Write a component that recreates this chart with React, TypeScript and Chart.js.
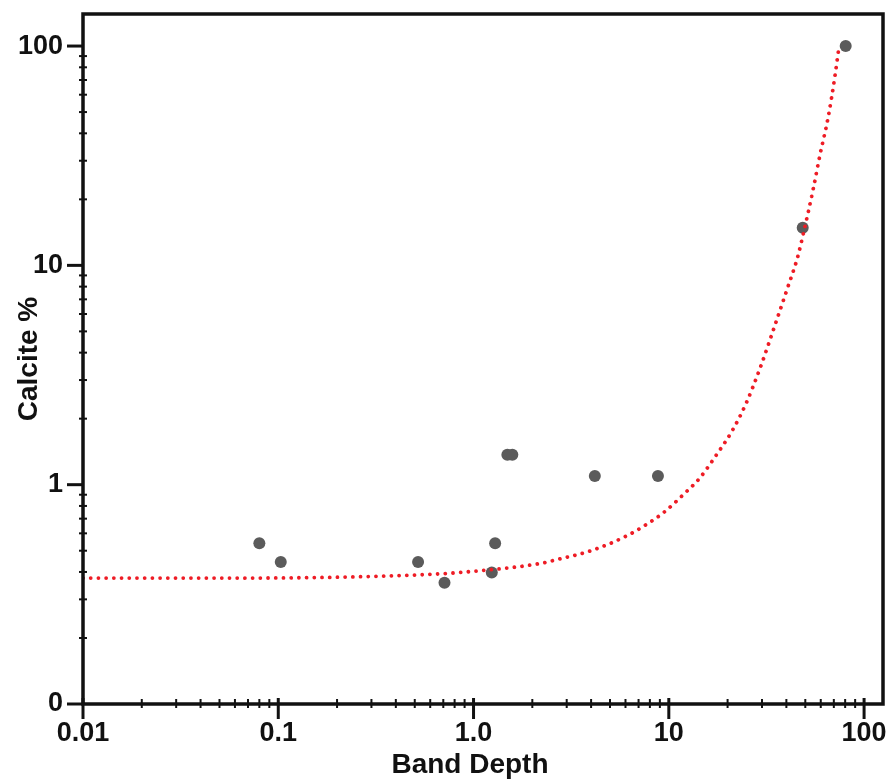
import { useEffect, useRef } from 'react';
import { Chart, registerables } from 'chart.js';

Chart.register(...registerables);

// Measured samples (Band Depth vs Calcite %)
const bandDepth = [0.08, 0.103, 0.52, 0.71, 1.24, 1.29, 1.49, 1.58, 4.18, 8.8, 48.5, 80.5];
const calcitePct = [0.541, 0.444, 0.444, 0.357, 0.398, 0.541, 1.368, 1.368, 1.096, 1.096, 14.85, 100];

// Fitted trend curve
const fitBandDepth = [0.01, 0.0587, 0.531, 0.885, 2.19, 2.61, 4.02, 6.08, 7.69, 9.36, 12.1, 14.4, 17.6, 21.0, 24.8, 29.3, 35.0, 40.3, 45.7, 48.8, 54.9, 59.4, 65.5, 70.9, 74.6];
const fitCalcite = [0.375, 0.375, 0.388, 0.399, 0.437, 0.453, 0.501, 0.584, 0.659, 0.744, 0.916, 1.072, 1.374, 1.746, 2.334, 3.39, 5.35, 7.76, 10.92, 13.89, 22.3, 31.8, 47.4, 72.9, 101];

const xTickValues = [0.01, 0.1, 1, 10, 100];
const xTickLabels = ['0.01', '0.1', '1.0', '10', '100'];
const yTickValues = [0.1, 1, 10, 100];
const yTickLabels = ['0', '1', '10', '100'];
const xTitle = 'Band Depth';
const yTitle = 'Calcite %';

const FONT_FAMILY = '"Liberation Sans", Arial, Helvetica, sans-serif';
const INK = '#111111';

export default function App() {
  const ref = useRef<HTMLCanvasElement>(null);

  useEffect(() => {
    const canvas = ref.current;
    if (!canvas) return;

    const framePlugin = {
      id: 'frameTicks',
      afterDraw(chart: any) {
        const { ctx, chartArea: a, scales } = chart;
        const xs = scales.x;
        const ys = scales.y;
        const seg = (x1: number, y1: number, x2: number, y2: number) => {
          ctx.beginPath();
          ctx.moveTo(x1, y1);
          ctx.lineTo(x2, y2);
          ctx.stroke();
        };
        ctx.save();
        ctx.strokeStyle = INK;
        ctx.lineCap = 'butt';

        // minor ticks
        ctx.lineWidth = 2;
        for (let e = -2; e <= 1; e++) {
          for (let k = 2; k <= 9; k++) {
            const px = xs.getPixelForValue(k * Math.pow(10, e));
            seg(px, a.bottom - 5, px, a.bottom + 4);
          }
        }
        for (let e = -1; e <= 1; e++) {
          for (let k = 2; k <= 9; k++) {
            const py = ys.getPixelForValue(k * Math.pow(10, e));
            seg(a.left - 4, py, a.left + 4, py);
          }
        }

        // major ticks
        ctx.lineWidth = 3;
        xTickValues.forEach((v) => {
          const px = xs.getPixelForValue(v);
          seg(px, a.bottom - 6, px, a.bottom + 15);
        });
        yTickValues.forEach((v) => {
          const py = ys.getPixelForValue(v);
          seg(a.left - 16, py, a.left, py);
        });

        // frame
        ctx.lineWidth = 3.5;
        ctx.strokeRect(a.left, a.top, a.right - a.left, a.bottom - a.top);

        // axis titles
        ctx.fillStyle = INK;
        ctx.font = `bold 28px ${FONT_FAMILY}`;
        ctx.textAlign = 'center';
        ctx.textBaseline = 'alphabetic';
        ctx.fillText(xTitle, 470, 773);
        ctx.translate(37, (a.top + a.bottom) / 2);
        ctx.rotate(-Math.PI / 2);
        ctx.fillText(yTitle, 0, 0);
        ctx.restore();
      },
    };

    const tickFont = { family: FONT_FAMILY, size: 27, weight: 'bold' as const };

    const chart = new Chart(canvas, {
      type: 'scatter',
      data: {
        datasets: [
          {
            label: 'fit',
            data: fitBandDepth.map((x, i) => ({ x, y: fitCalcite[i] })),
            showLine: true,
            borderColor: '#ee1c25',
            borderWidth: 3.8,
            borderDash: [0.01, 7.7],
            borderCapStyle: 'round',
            pointRadius: 0,
            cubicInterpolationMode: 'monotone',
            fill: false,
            order: 0,
          } as any,
          {
            label: 'samples',
            data: bandDepth.map((x, i) => ({ x, y: calcitePct[i] })),
            showLine: false,
            pointRadius: 6,
            pointBackgroundColor: '#5b5b5b',
            pointBorderWidth: 0,
            order: 1,
          } as any,
        ],
      },
      options: {
        animation: false,
        responsive: false,
        devicePixelRatio: 1,
        layout: { padding: { top: 14, right: 10, left: 0, bottom: 0 } },
        plugins: {
          legend: { display: false },
          tooltip: { enabled: false },
        },
        scales: {
          x: {
            type: 'logarithmic',
            min: 0.01,
            max: 125,
            grid: { display: false, drawTicks: false },
            border: { display: false },
            afterBuildTicks: (s: any) => {
              s.ticks = xTickValues.map((v) => ({ value: v }));
            },
            afterFit: (s: any) => {
              s.height = 77;
              s.paddingLeft = 0;
              s.paddingRight = 0;
              s.paddingTop = 0;
              s.paddingBottom = 0;
            },
            ticks: {
              autoSkip: false,
              maxRotation: 0,
              padding: 13,
              color: INK,
              font: tickFont,
              callback: (_v: any, i: number) => xTickLabels[i],
            },
          },
          y: {
            type: 'logarithmic',
            min: 0.1,
            max: 140,
            grid: { display: false, drawTicks: false },
            border: { display: false },
            afterBuildTicks: (s: any) => {
              s.ticks = yTickValues.map((v) => ({ value: v }));
            },
            afterFit: (s: any) => {
              s.width = 83;
              s.paddingLeft = 0;
              s.paddingRight = 0;
              s.paddingTop = 0;
              s.paddingBottom = 0;
            },
            ticks: {
              autoSkip: false,
              padding: 20,
              color: INK,
              font: tickFont,
              callback: (_v: any, i: number) => yTickLabels[i],
            },
          },
        } as any,
      },
      plugins: [framePlugin],
    });

    return () => chart.destroy();
  }, []);

  return (
    <div style={{ position: 'fixed', left: 0, top: 0, width: 893, height: 781, background: '#ffffff' }}>
      <canvas ref={ref} width={893} height={781} style={{ display: 'block' }} />
    </div>
  );
}
